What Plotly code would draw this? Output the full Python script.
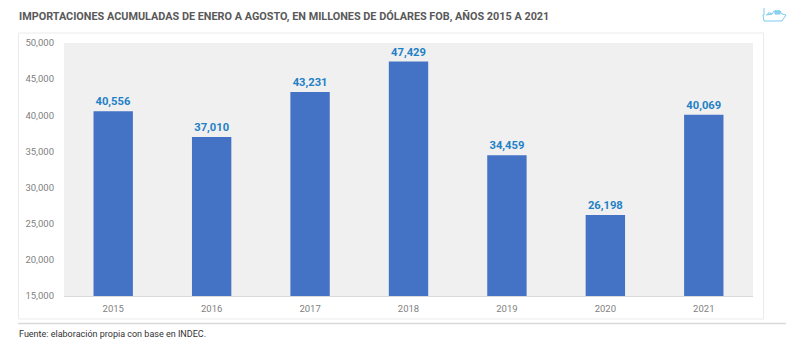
import plotly.graph_objects as go

years = ["2015", "2016", "2017", "2018", "2019", "2020", "2021"]
values = [40556, 37010, 43231, 47429, 34459, 26198, 40069]
y_ticks = [15000, 20000, 25000, 30000, 35000, 40000, 45000, 50000]
title = "IMPORTACIONES ACUMULADAS DE ENERO A AGOSTO, EN MILLONES DE DÓLARES FOB, AÑOS 2015 A 2021"
source = "Fuente: elaboración propia con base en INDEC."

# The page has an 8px body margin, so the figure is inset by that much.
OFFSET = 8
W, H = 800 - 2 * OFFSET, 364 - 2 * OFFSET
L, R, T, B = 64, 753, 43, 296  # plot area in window pixels
FONT = "Roboto, 'Open Sans', sans-serif"


def px(x):
    return (x - L) / (R - L)


def py(y):
    return (B - y) / (B - T)


fig = go.Figure(
    go.Bar(
        x=years,
        y=values,
        marker=dict(color="#4472c4", line=dict(width=0)),
        text=[f"{v:,}" for v in values],
        textposition="outside",
        cliponaxis=False,
        textfont=dict(family=FONT, size=11.2, color="#1f80c6", weight=700),
        hoverinfo="skip",
    )
)

shapes = [
    dict(type="rect", xref="paper", yref="paper", x0=px(18.5), x1=px(763.5), y0=py(33), y1=py(319),
         line=dict(color="#ebebeb", width=1), fillcolor="rgba(0,0,0,0)", layer="below"),
    dict(type="line", xref="paper", yref="paper", x0=px(18), x1=px(786), y0=py(323.5), y1=py(323.5),
         line=dict(color="#d9d9d9", width=1.5)),
]
# small ship logo, top right: hull outline, mast, deck cargo
ship = [
    ("M 764 6 L 764 15 L 763 15 L 764 21 L 782 21 L 786 15 L 782 14 L 780 11 L 774 11 L 772 14 L 766 15", None),
    ("M 763 6 L 766 6", None),
    ("M 768 15 L 768 13 L 771 13 L 771 15", None),
    ("M 775 14 L 775 11 L 780 11 L 780 14 Z", "#8fd3f2"),
]
for d, fill in ship:
    pts = d.split()
    out, i = [], 0
    while i < len(pts):
        if pts[i] == "Z":
            out.append("Z")
            i += 1
        else:
            out.append(f"{pts[i]} {px(float(pts[i+1])):.5f} {py(float(pts[i+2])):.5f}")
            i += 3
    shapes.append(dict(type="path", xref="paper", yref="paper", path=" ".join(out),
                       line=dict(color="#7ccbef", width=1), fillcolor=fill or "rgba(0,0,0,0)"))

fig.update_layout(
    width=W,
    height=H,
    autosize=False,
    paper_bgcolor="white",
    plot_bgcolor="#f0f0f0",
    margin=dict(l=L - OFFSET, r=W + OFFSET - R, t=T - OFFSET, b=H + OFFSET - B, pad=0),
    bargap=0.6,
    showlegend=False,
    font=dict(family=FONT, color="#7f7f7f", size=9.5),
    xaxis=dict(type="category", showgrid=False, ticks="", showline=True, linecolor="#d9d9d9",
               linewidth=1, ticklabelstandoff=4, tickfont=dict(size=9.5, color="#7f7f7f")),
    yaxis=dict(range=[15000, 50000], tickvals=y_ticks, tickformat=",", showgrid=False, ticks="",
               showline=False, zeroline=False, ticklabelstandoff=9, tickfont=dict(size=9.5, color="#7f7f7f")),
    shapes=shapes,
    annotations=[
        dict(text=f"<b>{title}</b>", xref="paper", yref="paper", x=px(18), y=py(17), xanchor="left",
             yanchor="middle", showarrow=False, xshift=-1, font=dict(family=FONT, size=10.85, color="#595959")),
        dict(text=source, xref="paper", yref="paper", x=px(18), y=py(333.5), xanchor="left",
             yanchor="middle", showarrow=False, xshift=-1, font=dict(family=FONT, size=9, color="#333333")),
    ],
)

fig.write_html("out.html")
